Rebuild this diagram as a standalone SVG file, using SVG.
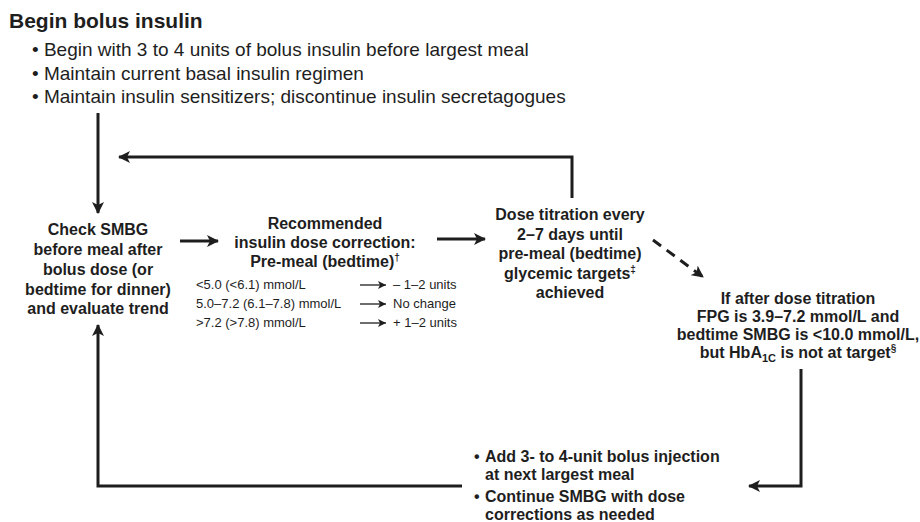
<svg xmlns="http://www.w3.org/2000/svg" width="920" height="522" viewBox="0 0 920 522">
<defs>
<style>
.t{font-family:"Liberation Sans",Arial,sans-serif;fill:#1e1e1e}
.b{font-weight:bold}
.h{font-size:21px;font-weight:bold}
.l{font-size:19px}
.n{font-size:16px;font-weight:bold}
.s{font-size:13px}
.c{text-anchor:middle}
.ln{fill:none;stroke:#1e1e1e;stroke-width:3}
.th{fill:none;stroke:#1e1e1e;stroke-width:1.3}
</style>
<marker id="ah" viewBox="0 0 12 12" refX="11" refY="6" markerWidth="12" markerHeight="12" markerUnits="userSpaceOnUse" orient="auto">
<path d="M0,0 L12,6 L0,12 L3,6 z" fill="#1e1e1e"/>
</marker>
<marker id="sh" viewBox="0 0 8 8" refX="8" refY="4" markerWidth="8" markerHeight="8" markerUnits="userSpaceOnUse" orient="auto">
<path d="M0,0 L8,4 L0,8 L2,4 z" fill="#1e1e1e"/>
</marker>
</defs>
<rect width="920" height="522" fill="#ffffff"/>

<g id="start">
<text class="t h" x="9" y="28">Begin bolus insulin</text>
<text class="t l" x="32" y="56">• Begin with 3 to 4 units of bolus insulin before largest meal</text>
<text class="t l" x="32" y="80">• Maintain current basal insulin regimen</text>
<text class="t l" x="32" y="103">• Maintain insulin sensitizers; discontinue insulin secretagogues</text>
</g>

<g id="check">
<text class="t n c" x="98" y="235">Check SMBG</text>
<text class="t n c" x="98" y="255">before meal after</text>
<text class="t n c" x="98" y="275">bolus dose (or</text>
<text class="t n c" x="98" y="295">bedtime for dinner)</text>
<text class="t n c" x="98" y="314">and evaluate trend</text>
</g>

<g id="correction">
<text class="t n c" x="325" y="229">Recommended</text>
<text class="t n c" x="325" y="248">insulin dose correction:</text>
<text class="t n c" x="325" y="267">Pre-meal (bedtime)<tspan font-size="10" dy="-6">†</tspan></text>
<text class="t s" x="196" y="289">&lt;5.0 (&lt;6.1) mmol/L</text>
<text class="t s" x="196" y="308">5.0–7.2 (6.1–7.8) mmol/L</text>
<text class="t s" x="196" y="327">&gt;7.2 (&gt;7.8) mmol/L</text>
<text class="t s" x="393" y="289">– 1–2 units</text>
<text class="t s" x="393" y="308">No change</text>
<text class="t s" x="393" y="327">+ 1–2 units</text>
</g>

<g id="titration">
<text class="t n c" x="570" y="220">Dose titration every</text>
<text class="t n c" x="570" y="240">2–7 days until</text>
<text class="t n c" x="570" y="259">pre-meal (bedtime)</text>
<text class="t n c" x="570" y="279">glycemic targets<tspan font-size="10" dy="-6">‡</tspan></text>
<text class="t n c" x="570" y="298">achieved</text>
</g>

<g id="condition">
<text class="t n c" x="798" y="304">If after dose titration</text>
<text class="t n c" x="798" y="322">FPG is 3.9–7.2 mmol/L and</text>
<text class="t n c" x="798" y="340">bedtime SMBG is &lt;10.0 mmol/L,</text>
<text class="t n c" x="798" y="358">but HbA<tspan font-size="11" dy="4">1C</tspan><tspan dy="-4"> is not at target</tspan><tspan font-size="10" dy="-6">§</tspan></text>
</g>

<g id="add">
<text class="t n" x="474" y="462">•</text>
<text class="t n" x="485" y="462">Add 3- to 4-unit bolus injection</text>
<text class="t n" x="485" y="480">at next largest meal</text>
<text class="t n" x="474" y="502">•</text>
<text class="t n" x="485" y="502">Continue SMBG with dose</text>
<text class="t n" x="485" y="520">corrections as needed</text>
</g>

<g id="connectors">
<path class="ln" d="M98,113 V213" marker-end="url(#ah)"/>
<path class="ln" d="M572,198 V157 H119" marker-end="url(#ah)"/>
<path class="ln" d="M180,241 H218" marker-end="url(#ah)"/>
<path class="ln" d="M437,239 H485" marker-end="url(#ah)"/>
<path class="ln" d="M653,240 L703,277" stroke-dasharray="10,7" marker-end="url(#ah)"/>
<path class="ln" d="M801,369 V486 H749" marker-end="url(#ah)"/>
<path class="ln" d="M462,486 H98 V325" marker-end="url(#ah)"/>
<path class="th" d="M360,285 H386" marker-end="url(#sh)"/>
<path class="th" d="M360,304 H386" marker-end="url(#sh)"/>
<path class="th" d="M360,323 H386" marker-end="url(#sh)"/>
</g>
</svg>
